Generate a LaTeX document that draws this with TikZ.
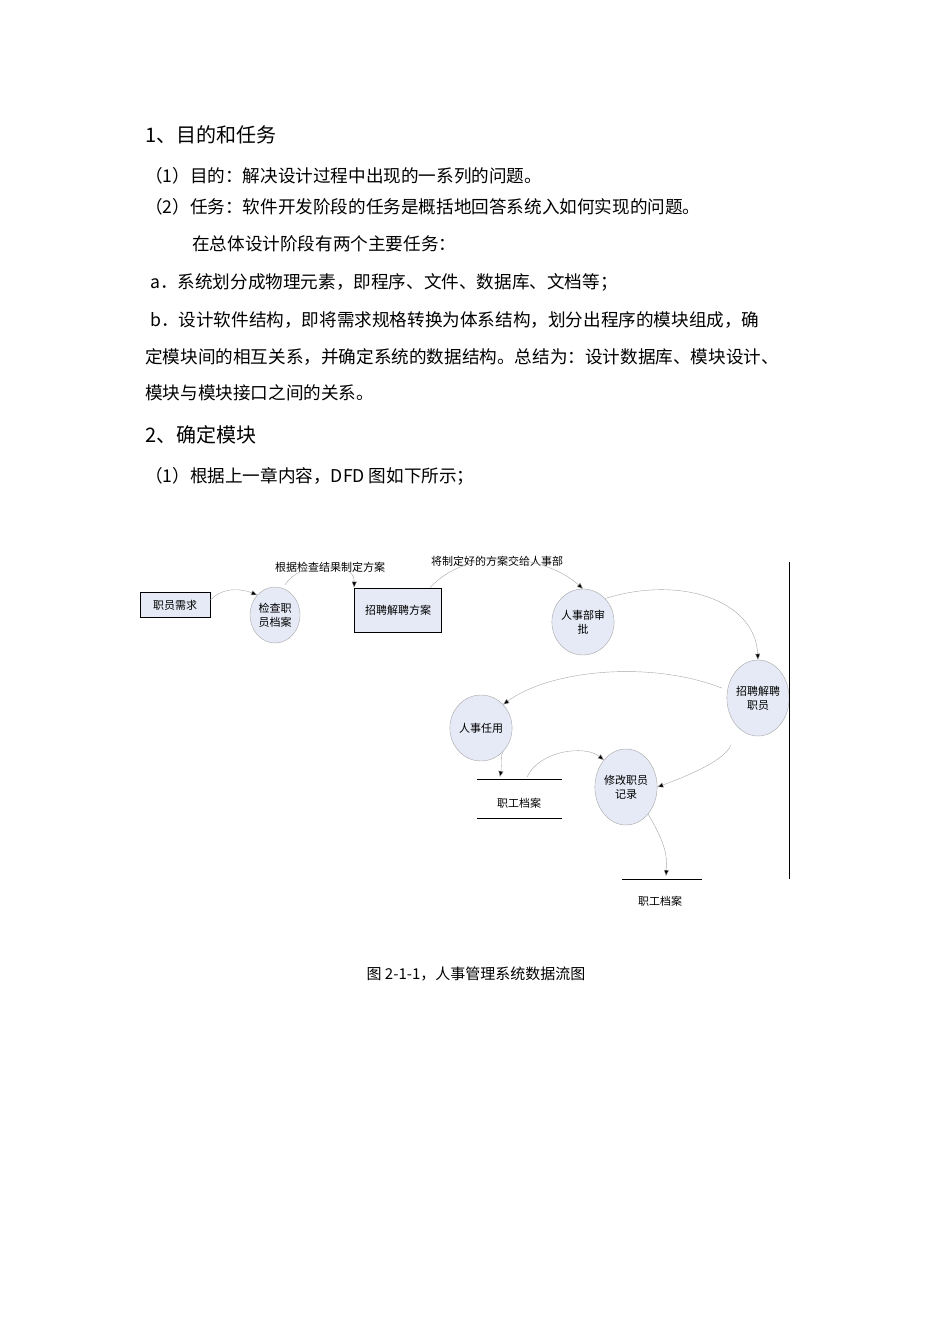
\documentclass[tikz,border=0pt]{standalone}
\usepackage{fontspec}
\setmainfont{Liberation Serif}
\newfontfamily\cjk{Noto Sans CJK SC}
\usetikzlibrary{arrows.meta,shapes.geometric}
\definecolor{nodefill}{RGB}{230,234,246}
\begin{document}
\begin{tikzpicture}[x=1pt,y=-1pt,
  body/.style={anchor=west,inner sep=0,font=\cjk\fontsize{17.6}{20}\selectfont},
  head/.style={anchor=west,inner sep=0,font=\cjk\fontsize{20}{22}\selectfont},
  small/.style={font=\cjk\fontsize{11}{14}\selectfont,align=center},
  proc/.style={ellipse,draw=gray!70,fill=nodefill,inner sep=0,small},
  ext/.style={rectangle,draw=black,thick,fill=nodefill,small},
  flow/.style={draw=gray!70,-{Triangle[length=6pt,width=5pt,fill=black]}}]
\path[use as bounding box] (0,0) rectangle (950,1344);
\node[head] (h1) at (145,135) {1、目的和任务};
\node[body] (l1) at (145,176) {（1）目的：解决设计过程中出现的一系列的问题。};
\node[body] (l2) at (145,207) {（2）任务：软件开发阶段的任务是概括地回答系统入如何实现的问题。};
\node[body] (l3) at (192,244) {在总体设计阶段有两个主要任务：};
\node[body] (l4) at (150,282) {a．系统划分成物理元素，即程序、文件、数据库、文档等；};
\node[body] (l5) at (150,320) {b．设计软件结构，即将需求规格转换为体系结构，划分出程序的模块组成，确};
\node[body] (l6) at (145,357) {定模块间的相互关系，并确定系统的数据结构。总结为：设计数据库、模块设计、};
\node[body] (l7) at (145,393) {模块与模块接口之间的关系。};
\node[head] (h2) at (145,435) {2、确定模块};
\node[body] (l8) at (145,476) {（1）根据上一章内容，DFD 图如下所示；};

\node[ext,minimum width=70,minimum height=25] (req) at (175,605) {职员需求};
\node[proc,minimum width=50,minimum height=56] (chk) at (275,615) {检查职\\员档案};
\node[ext,minimum width=87,minimum height=44] (plan) at (398,610) {招聘解聘方案};
\node[proc,minimum width=52,minimum height=66] (appr) at (583,622) {人事部审\\批};
\node[proc,minimum width=60,minimum height=76] (hire) at (758,698) {招聘解聘\\职员};
\node[proc,minimum width=52,minimum height=66] (emp) at (481,728) {人事任用};
\node[proc,minimum width=60,minimum height=76] (mod) at (626,787) {修改职员\\记录};

\coordinate (s1a) at (477,779); \coordinate (s1b) at (562,779);
\coordinate (s1c) at (477,818); \coordinate (s1d) at (562,818);
\draw (s1a) -- (s1b) (s1c) -- (s1d);
\node[small] (s1) at (519,803) {职工档案};
\coordinate (s2a) at (622,879); \coordinate (s2b) at (702,879);
\draw (s2a) -- (s2b);
\node[small] (s2) at (660,901) {职工档案};
\coordinate (vt) at (789,562); \coordinate (vb) at (789,879);
\draw (vt) -- (vb);

\node[small] (lab1) at (330,567) {根据检查结果制定方案};
\node[small] (lab2) at (497,561) {将制定好的方案交给人事部};

\coordinate (s1top) at (500,777); \coordinate (s1src) at (527,777);
\coordinate (s2top) at (666,876);
\draw[flow] (req.east) ++(0,-5) .. controls (225,585) and (245,590) .. (chk.north west);
\draw[flow] (chk.north) ++(10,-2) .. controls (300,560) and (355,560) .. (plan.north west);
\draw[flow] (plan.north) ++(32,0) .. controls (470,545) and (545,555) .. (appr.north);
\draw[flow] (appr.north east) .. controls (680,575) and (755,600) .. (hire.north);
\draw[flow] (hire.west) ++(-5,-10) .. controls (650,660) and (550,670) .. (emp.north east);
\draw[flow] (hire.south west) ++(-5,20) .. controls (725,760) and (690,775) .. (mod.east);
\draw[flow] (emp.south east) .. controls (500,755) and (502,765) .. (s1top);
\draw[flow] (s1src) .. controls (540,750) and (585,745) .. (mod.north west);
\draw[flow] (mod.south east) .. controls (660,835) and (668,850) .. (s2top);

\node[font=\cjk\fontsize{15}{17}\selectfont] (cap) at (476,974) {图 2-1-1，人事管理系统数据流图};
\end{tikzpicture}
\end{document}
